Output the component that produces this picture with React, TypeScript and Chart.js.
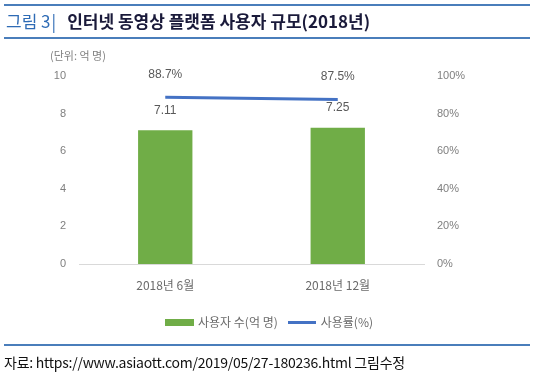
import React, { useEffect, useRef } from "react";
import { Chart, registerables } from "chart.js";

Chart.register(...registerables);

const categories = ["2018년 6월", "2018년 12월"];
const users = [7.11, 7.25];
const usageRate = [88.7, 87.5];
const leftTicks = [0, 2, 4, 6, 8, 10];
const rightTicks = [0, 20, 40, 60, 80, 100];

const FONT = "'Liberation Sans', 'Noto Sans CJK KR', sans-serif";
const KFONT = "'Noto Sans CJK KR', 'Liberation Sans', sans-serif";
const GREEN = "#70AD47";
const BLUE = "#4472C4";
const LINE_BLUE = "#4A7EBB";

function makeImg(w: number, h: number, color: string) {
  const c = document.createElement("canvas");
  c.width = w;
  c.height = h;
  const g = c.getContext("2d")!;
  g.fillStyle = color;
  g.fillRect(0, 0, w, h);
  return c;
}

const labelPlugin = {
  id: "valueLabels",
  afterDatasetsDraw(chart: any) {
    const ctx = chart.ctx;
    ctx.save();
    ctx.font = `12px ${FONT}`;
    ctx.fillStyle = "#595959";
    ctx.textAlign = "center";
    ctx.textBaseline = "middle";
    const barMeta = chart.getDatasetMeta(0);
    barMeta.data.forEach((el: any, i: number) => {
      ctx.fillText(users[i].toFixed(2), el.x, el.y - 20);
    });
    const lineMeta = chart.getDatasetMeta(1);
    lineMeta.data.forEach((el: any, i: number) => {
      ctx.fillText(usageRate[i].toFixed(1) + "%", el.x, el.y - 23);
    });
    ctx.restore();
  },
};

export default function App() {
  const ref = useRef<HTMLCanvasElement>(null);
  useEffect(() => {
    const greenImg = makeImg(29, 7, GREEN);
    const blueImg = makeImg(28, 3, BLUE);
    const chart = new Chart(ref.current!, {
      type: "bar",
      data: {
        labels: categories,
        datasets: [
          {
            type: "bar",
            label: "사용자 수(억 명)",
            data: users,
            backgroundColor: GREEN,
            yAxisID: "y",
            barPercentage: 0.315,
            categoryPercentage: 1,
            order: 2,
          },
          {
            type: "line",
            label: "사용률(%)",
            data: usageRate,
            borderColor: BLUE,
            backgroundColor: BLUE,
            borderWidth: 3,
            pointRadius: 0,
            yAxisID: "y1",
            order: 1,
          },
        ] as any,
      },
      plugins: [labelPlugin],
      options: {
        animation: false,
        responsive: false,
        maintainAspectRatio: false,
        layout: { padding: { top: 76, left: 0, right: 0, bottom: 38 } },
        plugins: {
          tooltip: { enabled: false },
          legend: {
            position: "bottom",
            labels: {
              usePointStyle: true,
              pointStyleWidth: 25,
              padding: 12,
              color: "#6B6B6B",
              font: { size: 12, family: KFONT },
              generateLabels: (ch: any) =>
                ch.data.datasets.map((ds: any, i: number) => ({
                  text: ds.label,
                  fillStyle: ds.backgroundColor,
                  strokeStyle: ds.backgroundColor,
                  lineWidth: 0,
                  pointStyle: i === 0 ? greenImg : blueImg,
                  datasetIndex: i,
                  hidden: false,
                  fontColor: "#6B6B6B",
                })),
            },
          },
        },
        scales: {
          x: {
            grid: { display: false, drawTicks: false },
            border: { display: true, color: "#D9D9D9", width: 1 },
            ticks: {
              padding: 14,
              color: "#6B6B6B",
              font: { size: 12, family: KFONT },
            },
            afterFit: (s: any) => {
              s.height = 40;
            },
          },
          y: {
            position: "left",
            min: 0,
            max: 10,
            afterBuildTicks: (s: any) => {
              s.ticks = leftTicks.map((v) => ({ value: v }));
            },
            grid: { display: false, drawTicks: false },
            border: { display: false },
            ticks: {
              padding: 13,
              color: "#7F7F7F",
              font: { size: 11, family: FONT },
            },
            afterFit: (s: any) => {
              s.width = 79;
            },
          },
          y1: {
            position: "right",
            min: 0,
            max: 100,
            afterBuildTicks: (s: any) => {
              s.ticks = rightTicks.map((v) => ({ value: v }));
            },
            grid: { display: false, drawTicks: false },
            border: { display: false },
            ticks: {
              padding: 13,
              color: "#7F7F7F",
              font: { size: 11, family: FONT },
              callback: (v: any) => v + "%",
            },
            afterFit: (s: any) => {
              s.width = 116;
            },
          },
        },
      } as any,
    });
    return () => chart.destroy();
  }, []);

  const line = (top: number): React.CSSProperties => ({
    position: "absolute",
    left: 4,
    width: 526,
    top,
    height: 2,
    background: LINE_BLUE,
  });

  return (
    <div
      style={{
        position: "fixed",
        left: 0,
        top: 0,
        width: 540,
        height: 376,
        background: "#fff",
        overflow: "hidden",
      }}
    >
      <canvas
        ref={ref}
        width={540}
        height={376}
        style={{ position: "absolute", left: 0, top: 0, width: 540, height: 376 }}
      />
      <div style={line(4)} />
      <div style={line(37)} />
      <div
        style={{
          position: "absolute",
          left: 6,
          top: 9,
          fontFamily: KFONT,
          fontSize: 17,
          lineHeight: "24px",
          whiteSpace: "nowrap",
        }}
      >
        <span style={{ color: "#2E6BB5" }}>그림 3</span>
        <span style={{ color: "#2E6BB5", marginLeft: 1 }}>|</span>
        <span style={{ color: "#1A1A3A", fontWeight: 700, marginLeft: 11 }}>
          인터넷 동영상 플랫폼 사용자 규모(2018년)
        </span>
      </div>
      <div
        style={{
          position: "absolute",
          left: 50,
          top: 47,
          fontFamily: KFONT,
          fontSize: 11,
          lineHeight: "16px",
          color: "#7F7F7F",
          whiteSpace: "nowrap",
        }}
      >
        (단위: 억 명)
      </div>
      <div style={line(344)} />
      <div
        style={{
          position: "absolute",
          left: 4,
          top: 352,
          fontFamily: KFONT,
          fontSize: 14,
          lineHeight: "20px",
          color: "#111",
          whiteSpace: "nowrap",
          letterSpacing: "-0.25px",
        }}
      >
        자료: https://www.asiaott.com/2019/05/27-180236.html 그림수정
      </div>
    </div>
  );
}
